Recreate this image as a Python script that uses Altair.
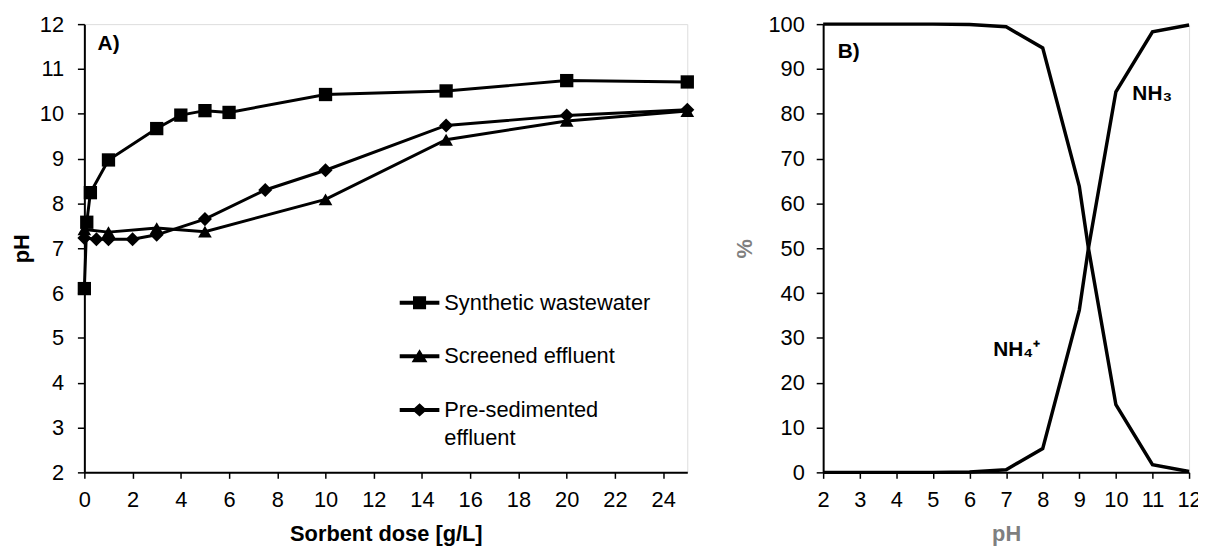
import altair as alt
import pandas as pd

FONT = "Liberation Sans"

# ---------------- Panel A data ----------------
series_names = ["Synthetic wastewater", "Screened effluent", "Pre-sedimented effluent"]

dose_syn = [0, 0.1, 0.25, 1, 3, 4, 5, 6, 10, 15, 20, 25]
ph_syn = [6.1, 7.58, 8.24, 8.97, 9.67, 9.97, 10.07, 10.03, 10.43, 10.51, 10.74, 10.71]

dose_scr = [0, 1, 3, 5, 10, 15, 20, 25]
ph_scr = [7.42, 7.36, 7.45, 7.37, 8.09, 9.42, 9.84, 10.06]

dose_pre = [0, 0.5, 1, 2, 3, 5, 7.5, 10, 15, 20, 25]
ph_pre = [7.23, 7.2, 7.2, 7.2, 7.3, 7.65, 8.3, 8.74, 9.74, 9.96, 10.09]

x_ticks_a = [0, 2, 4, 6, 8, 10, 12, 14, 16, 18, 20, 22, 24]
y_ticks_a = [2, 3, 4, 5, 6, 7, 8, 9, 10, 11, 12]

# ---------------- Panel B data ----------------
ph_b = [2, 3, 4, 5, 6, 7, 8, 9, 9.25, 10, 11, 12]
pct_nh4 = [100, 100, 100, 100, 99.9, 99.4, 94.7, 63.8, 50, 15.1, 1.7, 0.2]
pct_nh3 = [0, 0, 0, 0, 0.1, 0.6, 5.3, 36.2, 50, 84.9, 98.3, 99.8]
x_ticks_b = [2, 3, 4, 5, 6, 7, 8, 9, 10, 11, 12]
y_ticks_b = [0, 10, 20, 30, 40, 50, 60, 70, 80, 90, 100]

# annotations
panel_a_label = ["A)"]
panel_a_lx = [0.55]
panel_a_ly = [11.55]
b_labels = ["B)", "NH\u2083", "NH\u2084\u207a"]
b_lx = [2.4, 10.45, 6.65]
b_ly = [93.8, 84.5, 27.2]

rows = []
for name, xs, ys in zip(series_names, [dose_syn, dose_scr, dose_pre], [ph_syn, ph_scr, ph_pre]):
    for xv, yv in zip(xs, ys):
        rows.append({"series": name, "dose": xv, "pH": yv})
df_a = pd.DataFrame(rows)

rows_b = []
for name, vals in [("NH4+", pct_nh4), ("NH3", pct_nh3)]:
    for xv, yv in zip(ph_b, vals):
        rows_b.append({"species": name, "pH": xv, "pct": yv})
df_b = pd.DataFrame(rows_b)

df_ann_a = pd.DataFrame({"label": panel_a_label, "dose": panel_a_lx, "pH": panel_a_ly})
df_ann_b = pd.DataFrame({"label": b_labels, "pH": b_lx, "pct": b_ly})

W_A, W_B, H = 608, 369, 452
LBL = 22

def axis_kw(**kw):
    base = dict(
        labelFont=FONT, labelFontSize=LBL, labelColor="black",
        titleFont=FONT, titleFontSize=22, titleFontWeight="bold", titleColor="black",
        domainColor="black", domainWidth=2, tickColor="black", tickWidth=1.5,
        tickSize=6, grid=False, labelOverlap=False, labelFlush=False,
    )
    base.update(kw)
    return alt.Axis(**base)

x_a = alt.X("dose:Q", scale=alt.Scale(domain=[0, 25], nice=False, zero=False),
            axis=axis_kw(values=x_ticks_a, title="Sorbent dose [g/L]", labelPadding=11, titlePadding=14))
y_a = alt.Y("pH:Q", scale=alt.Scale(domain=[2, 12], nice=False, zero=False),
            axis=axis_kw(values=y_ticks_a, title="pH", labelPadding=14, titlePadding=6, tickSize=7))

lines_a = alt.Chart(df_a).mark_line(color="black", strokeWidth=3).encode(
    x=x_a, y=y_a, detail="series:N"
)

points_a = alt.Chart(df_a).mark_point(filled=True, color="black", opacity=1).encode(
    x=x_a, y=y_a,
    shape=alt.Shape("series:N", scale=alt.Scale(domain=series_names,
                                                 range=["square", "triangle-up", "diamond"]),
                    legend=None),
    size=alt.Size("series:N", scale=alt.Scale(domain=series_names, range=[180, 200, 200]),
                  legend=None),
)

line_path = "M-1,-0.1H1V0.1H-1Z"
legend_paths = [
    line_path + " M-0.33,-0.33H0.33V0.33H-0.33Z",
    line_path + " M0,-0.36L0.4,0.3H-0.4Z",
    line_path + " M0,-0.33L0.37,0L0,0.33L-0.37,0Z",
]

legend_layer = alt.Chart(df_a).transform_filter("false").mark_point(
    filled=True, color="black", opacity=1
).encode(
    x=x_a, y=y_a,
    shape=alt.Shape(
        "series:N",
        scale=alt.Scale(domain=series_names, range=legend_paths),
        legend=alt.Legend(
            title=None, orient="none", legendX=318, legendY=261, padding=0,
            symbolSize=1600, symbolFillColor="black", symbolStrokeColor="black",
            symbolStrokeWidth=0, symbolOpacity=1,
            labelFont=FONT, labelFontSize=22, labelColor="black", labelOffset=5,
            labelLimit=400, rowPadding=23,
            labelExpr="datum.label == 'Pre-sedimented effluent' ? ['Pre-sedimented', 'effluent'] : datum.label",
        ),
    ),
)

text_a = alt.Chart(df_ann_a).mark_text(
    font=FONT, fontSize=21, fontWeight="bold", align="left", baseline="middle", color="black"
).encode(x=x_a, y=y_a, text="label:N")

panel_a = alt.layer(lines_a, points_a, legend_layer, text_a).resolve_scale(
    shape="independent", size="independent"
).properties(width=W_A, height=H)

# ---------------- Panel B ----------------
x_b = alt.X("pH:Q", scale=alt.Scale(domain=[2, 12], nice=False, zero=False),
            axis=axis_kw(values=x_ticks_b, title="pH", titleColor="#7f7f7f",
                         labelPadding=11, titlePadding=14))
y_b = alt.Y("pct:Q", scale=alt.Scale(domain=[0, 100], nice=False),
            axis=axis_kw(values=y_ticks_b, title="%", titleColor="#7f7f7f",
                         labelPadding=12, titlePadding=12, tickSize=7))

lines_b = alt.Chart(df_b).mark_line(color="black", strokeWidth=3.5).encode(
    x=x_b, y=y_b, detail="species:N"
)

text_b = alt.Chart(df_ann_b).mark_text(
    font=FONT, fontSize=21, fontWeight="bold", align="left", baseline="middle", color="black"
).encode(x=x_b, y=y_b, text="label:N")

panel_b = alt.layer(lines_b, text_b).properties(width=W_B, height=H)

chart = alt.hconcat(panel_a, panel_b, spacing=37).properties(
    padding={"left": 2, "top": 2, "right": -4, "bottom": 0}
).configure_view(stroke="black", strokeWidth=1).configure(
    font=FONT, style={"guide-label": {"lineHeight": 28}}
)

chart.save("out.html", embed_options={"renderer": "svg", "actions": False})
